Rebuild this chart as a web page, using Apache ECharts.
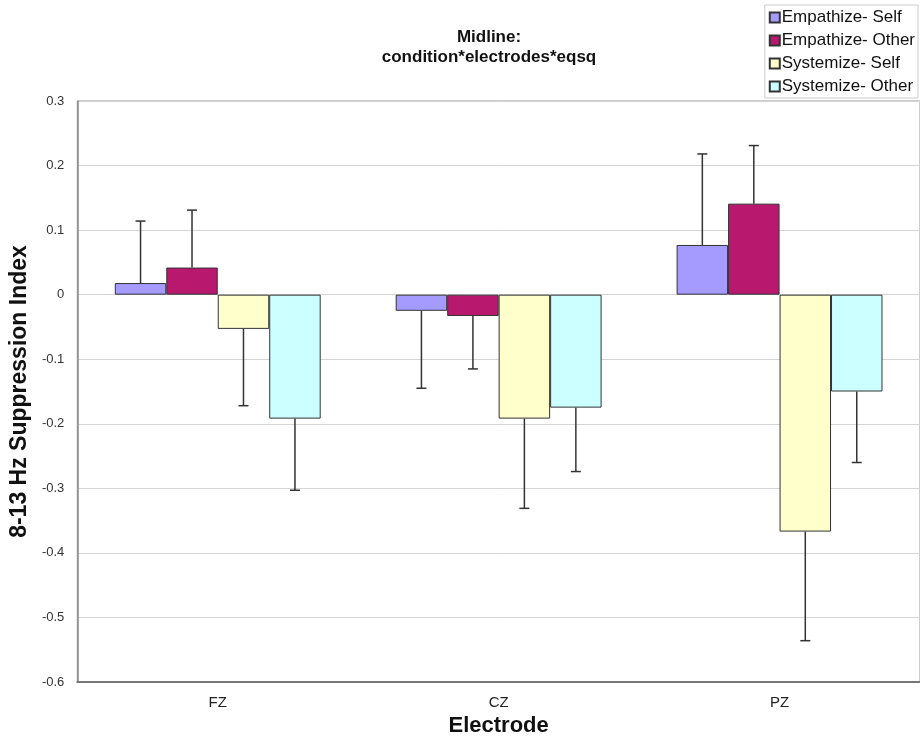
<!DOCTYPE html>
<html>
<head>
<meta charset="utf-8">
<script src="https://cdn.jsdelivr.net/npm/echarts@6/dist/echarts.min.js"></script>
<style>html,body{margin:0;padding:0;background:#fff;}#c{width:920px;height:742px;}</style>
</head>
<body>
<div id="c"></div>
<script>
const categories = ['FZ', 'CZ', 'PZ'];
const seriesNames = ['Empathize- Self', 'Empathize- Other', 'Systemize- Self', 'Systemize- Other'];
const empathizeSelf = [0.018, -0.025, 0.077];
const empathizeOther = [0.042, -0.033, 0.141];
const systemizeSelf = [-0.053, -0.192, -0.367];
const systemizeOther = [-0.192, -0.175, -0.150];
// error bar end points (one-sided, away from zero)
const empathizeSelfErr = [0.114, -0.145, 0.218];
const empathizeOtherErr = [0.131, -0.115, 0.231];
const systemizeSelfErr = [-0.172, -0.331, -0.536];
const systemizeOtherErr = [-0.303, -0.274, -0.260];
const yTicks = [0.3, 0.2, 0.1, 0, -0.1, -0.2, -0.3, -0.4, -0.5, -0.6];

const values = [empathizeSelf, empathizeOther, systemizeSelf, systemizeOther];
const errs = [empathizeSelfErr, empathizeOtherErr, systemizeSelfErr, systemizeOtherErr];
const colors = ['#a59bff', '#b8186e', '#ffffcc', '#ccffff'];
const gapRatio = 0.267;
const FONT = 'Liberation Sans, Arial, sans-serif';

const series = [];
values.forEach((v, i) => {
  series.push({
    name: seriesNames[i], type: 'bar', data: v,
    barGap: '0%', barCategoryGap: (gapRatio * 100) + '%',
    itemStyle: { color: colors[i], borderColor: '#333', borderWidth: 1 },
    emphasis: { disabled: true }
  });
});
values.forEach((v, i) => {
  series.push({
    type: 'custom', z: 5, silent: true,
    data: categories.map((c, k) => [k, v[k], errs[i][k]]),
    renderItem: function (params, api) {
      const k = api.value(0);
      const c0 = api.coord([k, api.value(1)]);
      const c1 = api.coord([k, api.value(2)]);
      const band = api.size([1, 0])[0];
      const bw = band * (1 - gapRatio) / 4;
      const x = c0[0] + (i - 1.5) * bw;
      const cap = 5;
      const st = { stroke: '#333', lineWidth: 1.5 };
      return { type: 'group', children: [
        { type: 'line', shape: { x1: x, y1: c0[1], x2: x, y2: c1[1] }, style: st },
        { type: 'line', shape: { x1: x - cap, y1: c1[1], x2: x + cap, y2: c1[1] }, style: st }
      ]};
    }
  });
});

const chart = echarts.init(document.getElementById('c'));
chart.setOption({
  animation: false,
  backgroundColor: '#fff',
  textStyle: { fontFamily: FONT },
  title: {
    text: 'Midline:\ncondition*electrodes*eqsq',
    left: 484, textAlign: 'center', top: 22,
    textStyle: { fontSize: 17, fontWeight: 'bold', color: '#111', lineHeight: 20, fontFamily: FONT }
  },
  legend: {
    orient: 'vertical', right: 2, top: 5,
    data: seriesNames, icon: 'rect',
    itemWidth: 10, itemHeight: 10, itemGap: 6,
    borderColor: '#ccc', borderWidth: 1, padding: [4, 3, 3, 4],
    textStyle: { fontSize: 17, color: '#111', padding: [0, 0, 0, -3], fontFamily: FONT },
    selectedMode: false
  },
  grid: { left: 77, right: 0, top: 101, height: 585, show: true, borderColor: '#999', borderWidth: 1 },
  xAxis: {
    type: 'category', data: categories, position: 'bottom',
    axisLine: { onZero: false, lineStyle: { color: '#777', width: 2 } },
    axisTick: { show: false },
    axisLabel: { fontSize: 15, color: '#222', margin: 13 },
    name: 'Electrode', nameLocation: 'middle', nameGap: 33,
    nameTextStyle: { fontSize: 22, fontWeight: 'bold', color: '#111' }
  },
  yAxis: {
    type: 'value', min: -0.6, max: 0.3, interval: 0.1,
    axisLine: { show: true, lineStyle: { color: '#888', width: 1.5 } },
    axisTick: { show: false },
    splitLine: { lineStyle: { color: '#d4d4d4', width: 1 } },
    axisLabel: { fontSize: 13, color: '#333', margin: 13,
      formatter: function (v) { const r = Math.round(v * 10) / 10; const t = yTicks.find(x => Math.abs(x - r) < 1e-9); return String(t === undefined ? r : t); } },
    name: '8-13 Hz Suppression Index', nameLocation: 'middle', nameGap: 45,
    nameTextStyle: { fontSize: 23, fontWeight: 'bold', color: '#111' }
  },
  series: series
});
</script>
</body>
</html>
